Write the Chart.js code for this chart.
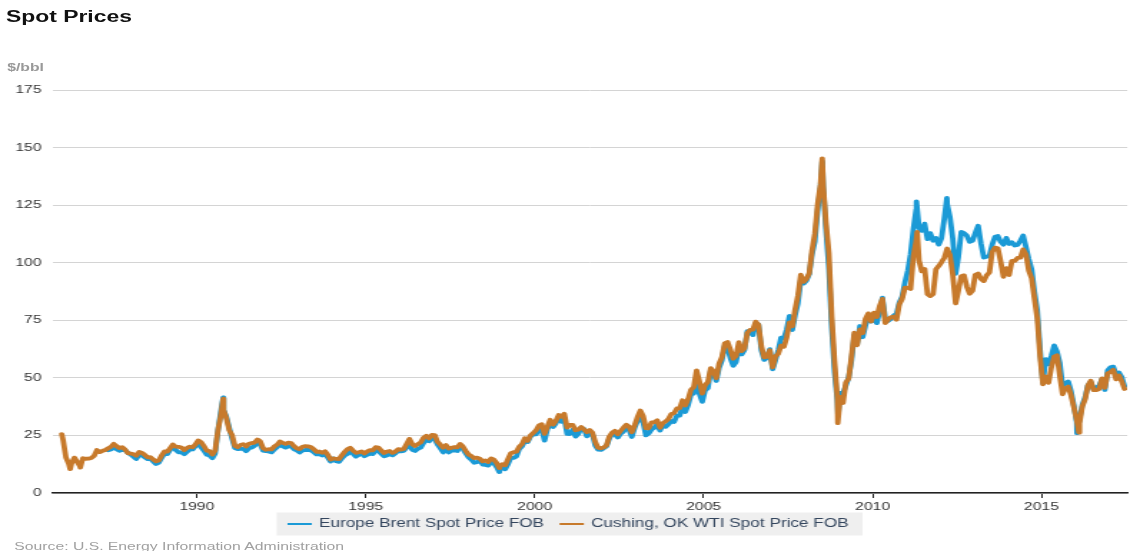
<!DOCTYPE html>
<html><head><meta charset="utf-8">
<script src="https://cdn.jsdelivr.net/npm/chart.js@4"></script>
<style>
html,body{margin:0;padding:0;background:#fff;overflow:hidden;width:1130px;height:551px}
#wrap{position:absolute;left:0;top:0;width:790px;height:551px;transform:scaleX(1.43038);transform-origin:0 0;}
#chart{position:absolute;left:0;top:0;width:790px;height:551px}
.t{position:absolute;white-space:nowrap;font-family:"Liberation Sans",Arial,sans-serif;line-height:1}
#title{left:4.2px;top:9.2px;font-size:16px;font-weight:bold;color:#111}
#unit{left:5px;top:61.7px;font-size:11px;font-weight:bold;color:#999}
#source{left:10px;top:540.7px;font-size:11px;color:#a0a0a0}
</style></head>
<body>
<div id="wrap">
  <div id="chart"><canvas id="c"></canvas></div>
  <div class="t" id="title">Spot Prices</div>
  <div class="t" id="unit">$/bbl</div>
  <div class="t" id="source">Source: U.S. Energy Information Administration</div>
</div>
<script>
// ---- data (monthly values, $/bbl) ----
const seriesNames = ["Europe Brent Spot Price FOB", "Cushing, OK WTI Spot Price FOB"];
const yearTicks = [1990, 1995, 2000, 2005, 2010, 2015];
const yTicks = [0, 25, 50, 75, 100, 125, 150, 175];

const wtiStart = 1986; // January 1986
const wtiMonthly = [
  22.93,15.46,12.61,12.84,15.38,13.43,11.58,15.10,14.87,14.90,15.22,16.11, // 1986
  18.65,17.75,18.30,18.68,19.44,20.07,21.34,20.31,19.53,19.86,18.85,17.28, // 1987
  17.13,16.80,16.20,17.86,17.42,16.53,15.50,15.52,14.54,13.77,14.14,16.38, // 1988
  18.02,17.94,19.48,21.07,20.12,20.05,19.78,18.58,19.59,20.10,19.86,21.10, // 1989
  22.86,22.11,20.39,18.43,18.20,16.70,18.45,27.31,33.51,36.04,32.33,27.28, // 1990
  25.23,20.48,19.90,20.83,21.23,20.19,21.40,21.69,21.89,23.23,22.46,19.50, // 1991
  18.79,19.01,18.92,20.23,20.98,22.39,21.78,21.34,21.88,21.69,20.34,19.41, // 1992
  19.03,20.09,20.32,20.25,19.95,19.09,17.89,18.01,17.50,18.15,16.61,14.52, // 1993
  15.03,14.78,14.68,16.42,17.89,19.06,19.66,18.38,17.45,17.72,18.07,17.16, // 1994
  18.04,18.57,18.54,19.90,19.74,18.45,17.33,18.02,18.23,17.43,17.99,19.03, // 1995
  18.85,19.09,21.33,23.50,21.17,20.42,21.30,21.90,23.97,24.88,23.71,25.23, // 1996
  25.13,22.18,20.97,19.70,20.82,19.26,19.66,19.95,19.80,21.33,20.19,18.33, // 1997
  16.72,16.06,15.12,15.35,14.91,13.72,14.17,13.47,15.03,14.46,13.00,11.35, // 1998
  12.52,12.01,14.68,17.31,17.72,17.92,20.10,21.28,23.80,22.69,25.00,26.10, // 1999
  27.26,29.37,29.84,25.72,28.79,31.82,29.70,31.26,33.88,33.11,34.42,28.44, // 2000
  29.59,29.61,27.24,27.49,28.63,27.60,26.43,27.37,26.20,22.17,19.64,19.39, // 2001
  19.72,20.72,24.53,26.18,27.04,25.52,26.97,28.39,29.66,28.84,26.35,29.46, // 2002
  32.95,35.83,33.51,28.17,28.11,30.66,30.76,31.57,28.31,30.34,31.11,32.13, // 2003
  34.31,34.69,36.74,36.75,40.28,38.03,40.78,44.90,45.94,53.28,48.47,43.15, // 2004
  46.84,48.15,54.19,52.98,49.83,56.35,59.00,64.99,65.59,62.26,58.32,59.41, // 2005
  65.49,61.63,62.69,69.44,70.84,70.95,74.41,73.04,63.80,58.89,59.08,61.96, // 2006
  54.51,59.28,60.44,63.98,63.46,67.49,74.12,72.36,79.92,85.80,94.77,91.69, // 2007
  92.97,95.39,105.45,112.58,125.40,133.88,133.37,116.67,104.11,76.61,57.31,41.12, // 2008
  41.71,39.09,47.94,49.65,59.03,69.64,64.15,71.05,69.41,75.72,77.99,74.47, // 2009
  78.33,76.39,81.20,84.29,73.74,75.34,76.32,76.60,75.24,81.89,84.25,89.15, // 2010
  89.17,88.58,102.86,109.53,100.90,96.26,97.30,86.33,85.52,86.32,97.16,98.56, // 2011
  100.27,102.20,106.16,103.32,94.66,82.30,87.90,94.13,94.51,89.49,86.53,87.86, // 2012
  94.76,95.31,92.94,92.02,94.51,95.77,104.67,106.57,106.29,100.54,93.86,97.63, // 2013
  94.62,100.82,100.80,102.07,102.18,105.79,103.59,96.54,93.21,84.40,75.79,59.29, // 2014
  47.22,50.58,47.82,54.45,59.27,59.82,50.90,42.87,45.48,46.22,42.44,37.19, // 2015
  31.68,30.32,37.55,40.75,46.71,48.76,44.65,44.72,45.18,49.78,45.66,51.97, // 2016
  52.50,53.47,49.33,51.06,48.48,45.18 // 2017
];

const brentStart = 1987 + 4 / 12; // May 1987
const brentMonthly = [
  18.58,18.86,19.86,18.98,18.31,18.76,18.67,17.42, // 1987 (May-Dec)
  16.75,15.73,14.73,16.60,16.31,15.49,14.71,14.94,13.66,12.58,13.18,15.28, // 1988
  17.05,16.85,18.70,20.32,18.63,17.67,17.62,16.85,17.87,18.86,18.93,20.30, // 1989
  21.25,19.81,18.39,16.61,16.35,15.10,17.17,27.17,35.32,36.02,33.07,28.27, // 1990
  23.57,19.54,19.08,19.18,19.19,18.17,19.40,19.77,20.50,22.21,21.11,18.41, // 1991
  18.16,18.05,17.63,18.92,19.89,21.16,20.25,19.74,20.27,20.26,19.00,18.49, // 1992
  17.58,18.52,18.67,18.75,18.51,17.72,16.76,16.84,16.29,16.91,15.38,13.64, // 1993
  14.99,13.76,13.49,15.06,16.29,16.91,17.91,17.02,15.81,16.46,17.30,16.01, // 1994
  16.60,17.05,16.90,18.46,18.14,17.00,15.97,16.33,16.78,16.39,17.20,18.41, // 1995
  18.08,18.28,19.77,20.75,18.75,18.26,19.22,19.68,21.70,23.07,22.46,23.87, // 1996
  23.44,20.97,19.34,17.60,18.89,17.62,18.37,18.53,18.23,20.48,19.15,17.18, // 1997
  15.51,14.46,13.13,13.37,14.38,12.36,12.18,11.91,13.38,12.96,11.21,9.82,  // 1998
  11.10,10.31,12.50,15.29,15.23,15.87,19.08,20.22,22.55,22.10,24.56,25.47, // 1999
  25.51,27.78,27.49,22.76,27.74,29.80,28.68,30.20,33.14,30.96,32.55,25.66, // 2000
  25.62,27.50,24.50,25.66,28.31,27.85,24.61,25.68,25.62,20.54,18.80,18.71, // 2001
  19.42,20.28,23.70,25.73,25.35,24.08,25.74,26.65,28.40,27.54,24.34,28.33, // 2002
  31.18,32.77,30.61,25.00,25.86,27.65,28.35,29.89,27.11,29.61,28.75,29.81, // 2003
  31.28,30.86,33.63,33.59,37.57,35.18,38.22,42.74,43.20,49.78,43.11,39.60, // 2004
  44.51,45.48,53.10,51.88,48.65,54.35,57.52,63.98,62.91,58.54,55.24,56.86, // 2005
  62.99,60.21,62.06,70.26,69.78,68.56,73.67,73.23,61.96,57.81,58.76,62.47, // 2006
  53.68,57.56,62.05,67.49,67.21,71.05,76.93,70.76,77.17,82.34,92.41,90.93, // 2007
  92.18,94.99,103.64,109.07,122.80,132.32,132.72,113.24,97.23,71.58,52.45,39.95, // 2008
  43.44,43.32,46.54,50.18,57.30,68.61,64.44,72.51,67.65,72.77,76.66,74.46, // 2009
  76.17,73.75,78.83,84.82,75.95,74.76,75.58,77.04,77.84,82.67,85.28,91.45, // 2010
  96.52,103.72,114.64,123.26,114.99,113.83,116.97,110.22,112.83,109.55,110.77,107.87, // 2011
  110.69,119.33,125.45,119.75,110.34,95.16,102.62,113.36,112.86,111.71,109.06,109.49, // 2012
  112.96,116.05,108.47,102.25,102.56,102.92,107.93,111.28,111.60,109.08,107.79,110.76, // 2013
  108.12,108.90,107.48,107.76,109.54,111.80,106.77,101.61,97.09,87.43,79.44,62.34, // 2014
  47.76,58.10,55.89,59.52,64.08,61.48,56.56,46.52,47.62,48.43,44.27,38.01, // 2015
  30.70,32.18,38.21,41.58,46.74,48.25,44.95,45.84,46.57,49.52,44.73,53.31, // 2016
  54.58,54.87,51.59,52.31,50.33,46.37 // 2017
];

// daily extremes visible in the picture: [decimal year, $/bbl]
const wtiExtremes = [[1986.00,25.6],[1986.25,10.4],[1986.55,11.0],[1990.78,41.0],[1998.95,10.8],
  [2008.51,145.3],[2008.97,30.3],[2011.32,113.4],[2016.11,26.2]];
const brentExtremes = [[1990.78,41.5],[1998.95,9.1],[2008.51,144.0],[2008.98,33.7],
  [2011.30,126.6],[2012.20,128.1],[2016.05,26.0]];

function buildPoints(start, monthly, extremes) {
  const pts = monthly.map((v, i) => ({ x: start + (i + 0.5) / 12, y: v }));
  extremes.forEach(([x, y]) => pts.push({ x, y }));
  return pts.sort((a, b) => a.x - b.x);
}

const FONT = '"Liberation Sans", Arial, sans-serif';
const BRENT_COLOR = '#1b9ad6';
const WTI_COLOR = '#c77a2c';

// legend drawn below the axis: grey box with a short line + label per series
const boxLegend = {
  id: 'boxLegend',
  afterDraw(chart) {
    const ctx = chart.ctx;
    const cy = 524;
    const lineLen = 17, textGap = 5, itemGap = 10.8, padL = 7.6, padR = 9.8;
    ctx.save();
    ctx.font = '12px ' + FONT;
    const items = chart.data.datasets.map(d => ({ text: d.label, color: d.borderColor, w: ctx.measureText(d.label).width }));
    const total = items.reduce((s, it) => s + lineLen + textGap + it.w, 0) + itemGap * (items.length - 1);
    const boxW = padL + total + padR;
    const boxL = 398.3 - (boxW) / 2 + (padL - padR) / 2 + 1;
    ctx.fillStyle = '#efefef';
    ctx.fillRect(boxL, cy - 11.5, boxW, 23);
    let x = boxL + padL;
    items.forEach(it => {
      ctx.fillStyle = it.color;
      ctx.fillRect(x, cy - 1, lineLen, 2);
      x += lineLen + textGap;
      ctx.fillStyle = '#34465e';
      ctx.textBaseline = 'middle';
      ctx.textAlign = 'left';
      ctx.fillText(it.text, x, cy);
      x += it.w + itemGap;
    });
    ctx.restore();
  }
};

new Chart(document.getElementById('c'), {
  type: 'line',
  data: {
    datasets: [
      { label: seriesNames[0], data: buildPoints(brentStart, brentMonthly, brentExtremes),
        borderColor: BRENT_COLOR, backgroundColor: BRENT_COLOR, borderWidth: 3.8, pointRadius: 0,
        tension: 0, order: 2, borderJoinStyle: 'round', borderCapStyle: 'round' },
      { label: seriesNames[1], data: buildPoints(wtiStart, wtiMonthly, wtiExtremes),
        borderColor: WTI_COLOR, backgroundColor: WTI_COLOR, borderWidth: 3.8, pointRadius: 0,
        tension: 0, order: 1, borderJoinStyle: 'round', borderCapStyle: 'round' }
    ]
  },
  options: {
    responsive: true,
    maintainAspectRatio: false,
    animation: false,
    events: [],
    layout: { padding: { top: 90, left: 10, right: 1.4, bottom: 37 } },
    scales: {
      x: {
        type: 'linear',
        min: 1985.74, max: 2017.54,
        afterBuildTicks: s => { s.ticks = yearTicks.map(v => ({ value: v })); },
        afterFit: s => { s.height = 21; },
        ticks: { callback: v => String(v), color: '#333', font: { family: FONT, size: 11 }, padding: 2, maxRotation: 0, autoSkip: false },
        grid: { display: true, drawOnChartArea: false, drawTicks: true, tickLength: 5, color: '#222', lineWidth: 1 },
        border: { display: true, color: '#222', width: 1.5 }
      },
      y: {
        min: 0, max: 175,
        afterBuildTicks: s => { s.ticks = yTicks.map(v => ({ value: v })); },
        afterFit: s => { s.width = 27; },
        ticks: { callback: v => String(v), color: '#333', font: { family: FONT, size: 11 }, padding: 8 },
        grid: { color: '#d4d4d4', lineWidth: 1, drawTicks: false },
        border: { display: false }
      }
    },
    plugins: {
      title: { display: false },
      tooltip: { enabled: false },
      legend: { display: false }
    }
  },
  plugins: [boxLegend]
});
</script>
</body></html>
